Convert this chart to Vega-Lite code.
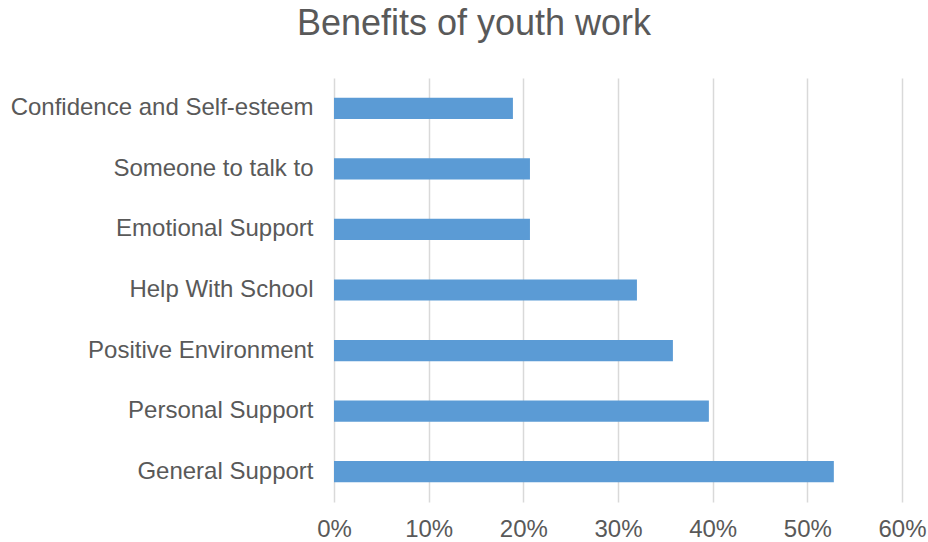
{
  "$schema": "https://vega.github.io/schema/vega-lite/v6.json",
  "width": 568,
  "height": 424,
  "autosize": {"type": "none"},
  "padding": {"left": 334, "top": 78, "right": 26, "bottom": 40},
  "background": "white",
  "title": {
    "text": "Benefits of youth work",
    "anchor": "middle",
    "frame": "group",
    "dx": -144,
    "fontSize": 36,
    "font": "Liberation Sans",
    "fontWeight": "normal",
    "color": "#595959",
    "baseline": "alphabetic",
    "offset": 7
  },
  "config": {
    "view": {"stroke": null},
    "font": "Liberation Sans"
  },
  "data": {
    "values": [
      {"benefit": "Confidence and Self-esteem", "value": 0.189},
      {"benefit": "Someone to talk to", "value": 0.207},
      {"benefit": "Emotional Support", "value": 0.207},
      {"benefit": "Help With School", "value": 0.320},
      {"benefit": "Positive Environment", "value": 0.358},
      {"benefit": "Personal Support", "value": 0.396},
      {"benefit": "General Support", "value": 0.528}
    ]
  },
  "mark": {"type": "bar", "color": "#5B9BD5"},
  "encoding": {
    "y": {
      "field": "benefit",
      "type": "nominal",
      "sort": null,
      "title": null,
      "scale": {"paddingInner": 0.65, "paddingOuter": 0.325},
      "axis": {
        "domain": false,
        "ticks": false,
        "labelFontSize": 24,
        "labelColor": "#595959",
        "labelPadding": 21,
        "labelLimit": 400,
        "labelFont": "Liberation Sans"
      }
    },
    "x": {
      "field": "value",
      "type": "quantitative",
      "title": null,
      "scale": {"domain": [0, 0.6], "nice": false},
      "axis": {
        "values": [0, 0.1, 0.2, 0.3, 0.4, 0.5, 0.6],
        "format": ".0%",
        "domain": false,
        "ticks": false,
        "grid": true,
        "gridColor": "#D9D9D9",
        "gridWidth": 1.5,
        "labelFlush": false,
        "labelFontSize": 24,
        "labelColor": "#595959",
        "labelPadding": 15,
        "labelFont": "Liberation Sans"
      }
    }
  }
}
